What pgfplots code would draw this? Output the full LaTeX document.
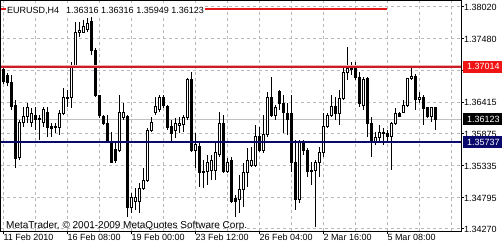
\documentclass[border=0pt]{standalone}
\usepackage{pgfplots}
\pgfplotsset{compat=1.18}
\usepackage{pgfplotstable}
\usepackage{fontspec}
\setmainfont{Liberation Sans}
\definecolor{mtred}{RGB}{200,30,40}
\definecolor{mtpink}{RGB}{240,175,175}
\definecolor{mtnavy}{RGB}{10,10,110}
\definecolor{mtgrid}{RGB}{185,185,185}
\definecolor{mtbid}{RGB}{192,192,192}
\definecolor{mtboxred}{RGB}{240,20,20}
\definecolor{mttrend}{RGB}{225,25,25}

\pgfplotstableread{
i o h l c
0 1.36956 1.36989 1.36719 1.36753
1 1.36871 1.36905 1.36685 1.36736
2 1.36736 1.36871 1.36280 1.36331
3 1.36364 1.36449 1.35300 1.35469
4 1.35486 1.36111 1.35435 1.36077
5 1.36077 1.36331 1.35993 1.36162
6 1.36162 1.36398 1.36060 1.36314
7 1.36077 1.36314 1.35993 1.36229
8 1.36195 1.36331 1.35942 1.36111
9 1.36128 1.36195 1.35773 1.36111
10 1.36077 1.36331 1.35993 1.36280
11 1.36246 1.36331 1.35824 1.35976
12 1.35993 1.36060 1.35824 1.35959
13 1.35976 1.36060 1.35891 1.35993
14 1.35976 1.36280 1.35858 1.36229
15 1.36229 1.36652 1.36195 1.36483
16 1.36466 1.36618 1.36331 1.36499
17 1.36499 1.37091 1.36314 1.37006
18 1.37006 1.37766 1.36989 1.37581
19 1.37581 1.37766 1.37513 1.37631
20 1.37597 1.37800 1.37581 1.37682
21 1.37648 1.37834 1.37597 1.37749
22 1.37783 1.37885 1.37209 1.37293
23 1.37293 1.37327 1.36499 1.36533
24 1.36533 1.36533 1.36145 1.36195
25 1.36162 1.36195 1.36026 1.36060
26 1.36060 1.36195 1.35722 1.35773
27 1.35739 1.35908 1.35385 1.35401
28 1.35621 1.35722 1.35385 1.35435
29 1.35604 1.36533 1.35570 1.36246
30 1.36145 1.36398 1.36111 1.36246
31 1.36162 1.36195 1.34472 1.34641
32 1.34641 1.34878 1.34540 1.34810
33 1.34726 1.34962 1.34591 1.34810
34 1.34726 1.35047 1.34540 1.34962
35 1.34962 1.35300 1.34929 1.35097
36 1.35097 1.35976 1.35064 1.35942
37 1.35942 1.36162 1.35908 1.36077
38 1.36246 1.36499 1.36195 1.36331
39 1.36280 1.36533 1.36246 1.36499
40 1.36499 1.36533 1.36314 1.36364
41 1.36331 1.36364 1.35942 1.35976
42 1.35993 1.36111 1.35739 1.35891
43 1.35942 1.36145 1.35807 1.36060
44 1.36026 1.36162 1.35891 1.36060
45 1.36043 1.36195 1.35908 1.36145
46 1.36145 1.36820 1.36111 1.36787
47 1.36787 1.36922 1.35570 1.35604
48 1.35604 1.35891 1.35300 1.35689
49 1.35655 1.35739 1.34979 1.35216
50 1.35233 1.35435 1.34962 1.35216
51 1.35233 1.35520 1.35013 1.35401
52 1.35266 1.35520 1.35097 1.35435
53 1.35266 1.35722 1.35097 1.35554
54 1.35520 1.36246 1.35486 1.36060
55 1.36060 1.36195 1.35216 1.35233
56 1.35233 1.35469 1.35216 1.35401
57 1.35435 1.35486 1.34709 1.34726
58 1.34793 1.34844 1.34472 1.34726
59 1.34776 1.35182 1.34540 1.34929
60 1.34929 1.35385 1.34641 1.35216
61 1.35216 1.35638 1.34979 1.35435
62 1.35334 1.35655 1.35317 1.35435
63 1.35334 1.36026 1.35317 1.35824
64 1.35824 1.35993 1.35570 1.35604
65 1.35604 1.36195 1.35554 1.35858
66 1.35858 1.36584 1.35824 1.36483
67 1.36483 1.36837 1.36162 1.36195
68 1.36195 1.36364 1.36111 1.36314
69 1.36584 1.36618 1.36280 1.36398
70 1.36398 1.36533 1.35891 1.36246
71 1.36229 1.36398 1.35858 1.36111
72 1.36229 1.36533 1.35233 1.35401
73 1.35401 1.35773 1.34591 1.34760
74 1.34760 1.35773 1.34709 1.35739
75 1.35739 1.35773 1.35520 1.35604
76 1.35604 1.35638 1.35148 1.35233
77 1.35233 1.35401 1.35013 1.35266
78 1.35266 1.35435 1.34304 1.35385
79 1.35385 1.35655 1.35148 1.35570
80 1.35570 1.36229 1.35486 1.35993
81 1.35993 1.36229 1.35976 1.36195
82 1.36195 1.36533 1.36162 1.36331
83 1.36331 1.36499 1.36111 1.36229
84 1.36229 1.36618 1.36026 1.36466
85 1.36466 1.36989 1.36449 1.36905
86 1.36905 1.37344 1.36787 1.36989
87 1.36956 1.37091 1.36871 1.36989
88 1.37006 1.37091 1.36787 1.36837
89 1.36837 1.36922 1.36331 1.36398
90 1.36364 1.36837 1.36280 1.36787
91 1.36804 1.36837 1.35824 1.36060
92 1.36060 1.36162 1.35486 1.35739
93 1.35739 1.35908 1.35689 1.35807
94 1.35807 1.36026 1.35722 1.35908
95 1.35891 1.35976 1.35689 1.35908
96 1.35891 1.35942 1.35722 1.35824
97 1.35824 1.36077 1.35266 1.36060
98 1.36060 1.36314 1.36026 1.36229
99 1.36229 1.36246 1.36162 1.36178
100 1.36246 1.36449 1.36229 1.36364
101 1.36364 1.36820 1.36331 1.36804
102 1.36804 1.37040 1.36787 1.36854
103 1.36854 1.36888 1.36280 1.36449
104 1.36449 1.36584 1.36398 1.36499
105 1.36499 1.36533 1.36026 1.36297
106 1.36314 1.36331 1.36145 1.36162
107 1.36162 1.36331 1.36077 1.36314
108 1.36316 1.36316 1.35949 1.36123
}\candles

\begin{document}
\begin{tikzpicture}[x=1pt,y=1pt]
\begin{axis}[
  at={(1pt,19pt)}, anchor=south west,
  scale only axis, width=460pt, height=230pt,
  xmin=-0.575, xmax=114.425, ymin=1.34236, ymax=1.38121,
  axis line style={black, line width=1pt},
  xtick={0,16,32,48,64,80,96},
  xticklabels={11 Feb 2010,16 Feb 08:00,19 Feb 00:00,23 Feb 12:00,26 Feb 04:00,2 Mar 16:00,5 Mar 08:00},
  minor xtick={8,24,40,56,72,88,104,112},
  ytick={1.34270,1.34795,1.35335,1.35875,1.36415,1.36950,1.37480,1.38020},
  yticklabels={1.34270,1.34795,1.35335,1.35875,1.36415,1.36950,1.37480,1.38020},
  scaled y ticks=false, scaled x ticks=false,
  xtick pos=bottom, ytick pos=right, yticklabel pos=right,
  tick align=outside, major tick length=3pt, minor tick length=0pt,
  tick style={black, line width=1pt},
  xmajorgrids, xminorgrids, ymajorgrids,
  major grid style={mtgrid, line width=1pt, dash pattern=on 3pt off 3pt},
  minor grid style={mtgrid, line width=1pt, dash pattern=on 3pt off 3pt},
  every tick label/.append style={font=\fontsize{9}{10}\selectfont},
  xticklabel style={anchor=north west, inner sep=0pt},
  yticklabel style={anchor=west, inner sep=0pt},
  clip=false,
]
\addplot[mtbid, line width=1pt] coordinates {(-0.575,1.36123) (114.425,1.36123)};
\pgfplotsforeachungrouped \r in {0,...,108}{%
  \pgfplotstablegetelem{\r}{o}\of\candles \let\cO\pgfplotsretval
  \pgfplotstablegetelem{\r}{h}\of\candles \let\cH\pgfplotsretval
  \pgfplotstablegetelem{\r}{l}\of\candles \let\cL\pgfplotsretval
  \pgfplotstablegetelem{\r}{c}\of\candles \let\cC\pgfplotsretval
  \pgfmathsetmacro\xa{\r-0.25}%
  \pgfmathsetmacro\xb{\r+0.25}%
  \ifdim\cC pt<\cO pt
    \edef\cBot{\cC}\edef\cTop{\cO}\def\cFill{black}%
  \else
    \edef\cBot{\cO}\edef\cTop{\cC}\def\cFill{white}%
  \fi
  \edef\doplot{\noexpand\addplot[black, line width=1pt] coordinates {(\r,\cL) (\r,\cH)};%
    \noexpand\addplot[draw=black, fill=\cFill, line width=1pt] coordinates {(\xa,\cBot) (\xb,\cBot) (\xb,\cTop) (\xa,\cTop)} -- cycle;}%
  \doplot
}
\addplot[mtpink, line width=3.5pt] coordinates {(-0.575,1.37014) (114.425,1.37014)};
\addplot[mtred, line width=2pt] coordinates {(-0.575,1.37014) (114.425,1.37014)};
\addplot[mtnavy, line width=2pt] coordinates {(-0.575,1.35737) (114.425,1.35737)};
\addplot[mttrend, line width=2pt] coordinates {(-0.575,1.37986) (95.9,1.37986)};
\coordinate (R1) at (axis cs:114.425,1.37014);
\coordinate (R2) at (axis cs:114.425,1.36123);
\coordinate (R3) at (axis cs:114.425,1.35737);
\coordinate (TL) at (rel axis cs:0,1);
\coordinate (BL) at (rel axis cs:0,0);
\end{axis}
\node[anchor=west, fill=mtboxred, text=white, inner sep=0pt, minimum height=12pt, font=\fontsize{9}{10}\selectfont] at ([xshift=2pt]R1) {\hspace*{4pt}1.37014\hspace*{2pt}};
\node[anchor=west, fill=black, text=white, inner sep=0pt, minimum height=12pt, font=\fontsize{9}{10}\selectfont] at ([xshift=2pt]R2) {\hspace*{4pt}1.36123\hspace*{2pt}};
\node[anchor=west, fill=mtnavy, text=white, inner sep=0pt, minimum height=12pt, font=\fontsize{9}{10}\selectfont] at ([xshift=2pt]R3) {\hspace*{4pt}1.35737\hspace*{2pt}};
\node[anchor=base west, fill=white, inner xsep=1pt, inner ysep=2pt, font=\fontsize{9}{10}\selectfont] at ([xshift=5pt,yshift=-13pt]TL) {EURUSD,H4\hspace{7pt}1.36316 1.36316 1.35949 1.36123};
\node[anchor=base west, inner sep=0pt, font=\fontsize{10}{11}\selectfont] at ([xshift=5pt,yshift=3pt]BL) {MetaTrader, © 2001-2009 MetaQuotes Software Corp.};
\pgfresetboundingbox
\path[use as bounding box] (0,0) rectangle (503,250);
\end{tikzpicture}
\end{document}
